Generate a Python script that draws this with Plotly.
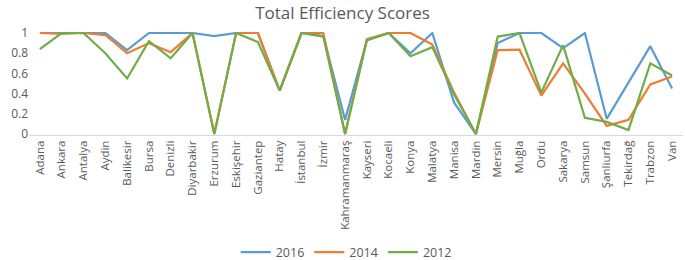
import plotly.graph_objects as go

cities = ["Adana", "Ankara", "Antalya", "Aydin", "Balikesir", "Bursa", "Denizli",
          "Diyarbakir", "Erzurum", "Eskişehir", "Gaziantep", "Hatay", "İstanbul",
          "İzmir", "Kahramanmaraş", "Kayseri", "Kocaeli", "Konya", "Malatya",
          "Manisa", "Mardin", "Mersin", "Muğla", "Ordu", "Sakarya", "Samsun",
          "Şanliurfa", "Tekirdağ", "Trabzon", "Van"]

s2016 = [1, 1, 1, 1, 0.83, 1, 1, 1, 0.97, 1, 1, 0.43, 1, 0.97, 0.14, 0.93, 1,
         0.80, 1, 0.31, 0, 0.90, 1, 1, 0.85, 1, 0.15, 0.51, 0.87, 0.45]
s2014 = [1, 0.99, 1, 0.98, 0.80, 0.90, 0.81, 1, 0, 1, 1, 0.43, 1, 1, 0, 0.94, 1,
         1, 0.885, 0.41, 0, 0.83, 0.835, 0.38, 0.70, 0.40, 0.08, 0.14, 0.49, 0.57]
s2012 = [0.84, 1, 1, 0.80, 0.55, 0.92, 0.75, 1, 0, 1, 0.91, 0.43, 1, 0.965, 0,
         0.93, 1, 0.77, 0.86, 0.39, 0, 0.965, 1, 0.41, 0.88, 0.16, 0.12, 0.04,
         0.70, 0.58]

series = [("2016", s2016, "#5B9BD5"), ("2014", s2014, "#ED7D31"), ("2012", s2012, "#70AD47")]

fig = go.Figure()
for name, vals, color in series:
    fig.add_trace(go.Scatter(x=cities, y=vals, name=name, mode="lines",
                             line=dict(color=color, width=2.2)))

font = "Open Sans"
fig.update_layout(
    width=685, height=260,
    margin=dict(l=29, r=2, t=32, b=125, autoexpand=False),
    paper_bgcolor="white", plot_bgcolor="white",
    title=dict(text="Total Efficiency Scores", x=0.5, xanchor="center",
               y=0.95, yanchor="middle", yref="container",
               font=dict(family=font, size=17, color="#595959")),
    font=dict(family=font, size=12, color="#595959"),
    showlegend=True,
    legend=dict(orientation="h", x=0.485, xanchor="center", y=-1.14, yanchor="middle",
                yref="paper", font=dict(family=font, size=12.5, color="#595959"),
                itemwidth=30, tracegroupgap=0, bgcolor="rgba(0,0,0,0)"),
)
fig.update_xaxes(type="category", range=[-0.5, len(cities) - 0.5], tickangle=-90,
                 showgrid=False, showline=True, linecolor="#D9D9D9", linewidth=1,
                 ticks="", tickfont=dict(family=font, size=11.5, color="#595959"),
                 zeroline=False, automargin=False)
fig.update_yaxes(range=[-0.01, 1.01], tickvals=[0, 0.2, 0.4, 0.6, 0.8, 1],
                 ticktext=["0", "0.2", "0.4", "0.6", "0.8", "1"], showgrid=False,
                 zeroline=False, showline=False, ticks="", automargin=False,
                 tickfont=dict(family=font, size=12, color="#595959"))

fig.write_html("out.html", config={"displayModeBar": False},
               post_script="document.body.style.margin='0';")
